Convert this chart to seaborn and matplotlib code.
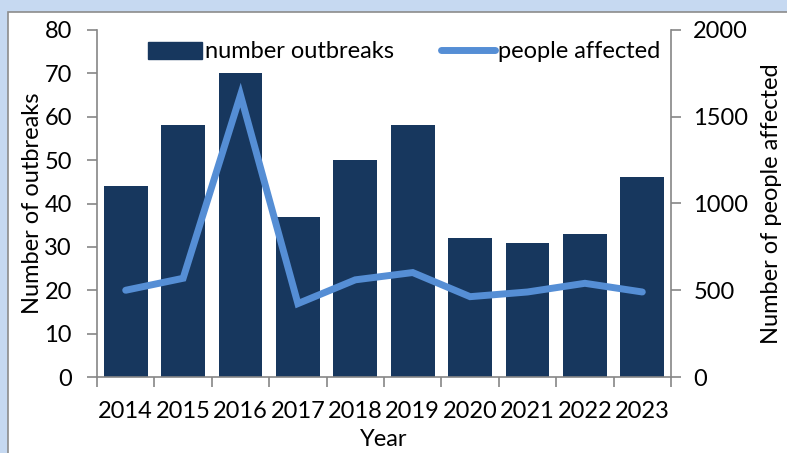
import numpy as np
import pandas as pd
import matplotlib
matplotlib.use("Agg")
import matplotlib.pyplot as plt
import seaborn as sns
from matplotlib.patches import Rectangle
from matplotlib.lines import Line2D
from matplotlib.patches import Patch

years = ["2014", "2015", "2016", "2017", "2018", "2019", "2020", "2021", "2022", "2023"]
outbreaks = [44, 58, 70, 37, 50, 58, 32, 31, 33, 46]
people = [500, 569, 1625, 423, 560, 602, 463, 490, 540, 490]

left_ticks = [0, 10, 20, 30, 40, 50, 60, 70, 80]
right_ticks = [0, 500, 1000, 1500, 2000]

bar_color = "#17375E"
line_color = "#558ED5"
spine_color = "#868686"

sns.set_theme(style="white")
plt.rcParams["font.family"] = ["Lato", "DejaVu Sans"]
plt.rcParams["font.size"] = 17
plt.rcParams["text.color"] = "black"

fig = plt.figure(figsize=(7.87, 4.53), dpi=100)
fig.patch.set_facecolor("#C6D9F1")

# white chart panel with a grey frame
panel = Rectangle((8 / 787, -0.05), 1.05, (453 - 12) / 453 + 0.05,
                  transform=fig.transFigure, facecolor="white",
                  edgecolor="#8C8C8C", linewidth=1.2, zorder=-5)
fig.patches.append(panel)

ax = fig.add_axes([97 / 787, (453 - 377) / 453, (671 - 97) / 787, (377 - 30) / 453])
ax.set_facecolor("none")

df = pd.DataFrame({"year": years, "outbreaks": outbreaks, "people": people,
                   "pos": np.arange(len(years))})

sns.barplot(data=df, x="year", y="outbreaks", color=bar_color, width=0.76,
            saturation=1, ax=ax, edgecolor=bar_color, linewidth=0)
ax.set_xlim(-0.5, len(years) - 0.5)
ax.set_ylim(0, 80)
ax.set_yticks(left_ticks)
ax.set_yticklabels([str(t) for t in left_ticks])
ax.set_xlabel("Year", fontsize=17, labelpad=5, color="black")
ax.set_ylabel("Number of outbreaks", fontsize=17, labelpad=1, color="black")

ax2 = ax.twinx()
sns.lineplot(data=df, x="pos", y="people", color=line_color, linewidth=5,
             ax=ax2, solid_capstyle="round", solid_joinstyle="miter")
ax2.set_ylim(0, 2000)
ax2.set_yticks(right_ticks)
ax2.set_yticklabels([str(t) for t in right_ticks])
ax2.set_ylabel("Number of people affected", fontsize=17, labelpad=9, color="black")
ax2.set_xlabel("")
ax2.set_xlim(-0.5, len(years) - 0.5)

for a in (ax, ax2):
    a.spines["top"].set_visible(False)
    for side in ("left", "right", "bottom"):
        a.spines[side].set_color(spine_color)
        a.spines[side].set_linewidth(1.2)

ax.spines["right"].set_visible(False)
ax2.spines["left"].set_visible(False)
ax2.spines["bottom"].set_visible(False)

# x ticks sit between categories, labels stay centred
ax.set_xticks(np.arange(len(years)))
ax.set_xticklabels(years)
ax.set_xticks(np.arange(-0.5, len(years)), minor=True)
ax.tick_params(axis="x", which="major", length=0, pad=17, labelsize=17, labelcolor="black")
ax.tick_params(axis="x", which="minor", length=7, width=1.2, color=spine_color, direction="out", bottom=True)
ax.tick_params(axis="y", which="major", length=7, width=1.2, color=spine_color, direction="out",
               left=True, labelsize=17, labelcolor="black", pad=11)
ax2.tick_params(axis="y", which="major", length=7, width=1.2, color=spine_color, direction="out",
                right=True, labelsize=17, labelcolor="black", pad=9)

handles = [Patch(facecolor=bar_color, edgecolor=bar_color),
           Line2D([0], [0], color=line_color, linewidth=5, solid_capstyle="round")]
fig.legend(handles, ["number outbreaks", "people affected"], loc="center",
           bbox_to_anchor=(404 / 787, 1 - 52 / 453), ncol=2, frameon=False,
           fontsize=17, handlelength=2.3, handleheight=0.7, handletextpad=0.1,
           columnspacing=2.0, labelcolor="black")

fig.savefig("out.png", dpi=100, facecolor=fig.get_facecolor())
